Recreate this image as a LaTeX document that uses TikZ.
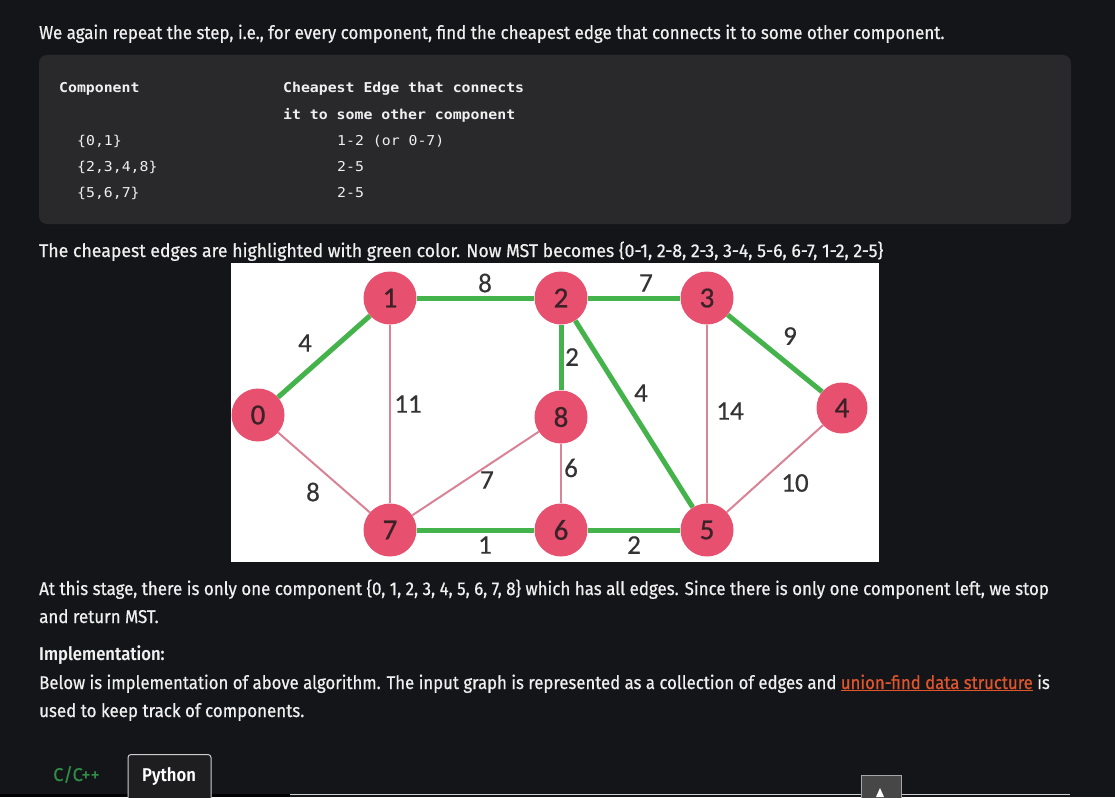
\documentclass[tikz,border=0pt]{standalone}
\usepackage{fontspec}
\usetikzlibrary{backgrounds}
\newfontfamily\bodyfont[FakeStretch=0.915,FakeBold=0.6]{Fira Sans}
\newfontfamily\bodyboldfont[FakeStretch=0.9]{Fira Sans SemiBold}
\newfontfamily\codefont[FakeStretch=1.09]{DejaVu Sans Mono}
\newfontfamily\graphfont[FakeBold=0.8]{Carlito}
\newfontfamily\weightfont[FakeBold=0.4]{Carlito}
\definecolor{bg}{HTML}{141519}
\definecolor{codebg}{HTML}{29292C}
\definecolor{txt}{HTML}{F0F0F0}
\definecolor{gr}{HTML}{45B34B}
\definecolor{pk}{HTML}{D98397}
\definecolor{nd}{HTML}{E8506F}
\definecolor{ndtxt}{HTML}{3A2228}
\definecolor{wtxt}{HTML}{333333}
\definecolor{linkc}{HTML}{E0552E}
\definecolor{tabgreen}{HTML}{2F8D46}
\definecolor{tabbg}{HTML}{1E1E20}
\definecolor{tabborder}{HTML}{CFCFCF}
\tikzset{
  body/.style={anchor=base west, inner sep=0pt, text=txt, font=\bodyfont\fontsize{18.5}{21}\selectfont},
  code/.style={anchor=base west, inner sep=0pt, text=txt, font=\codefont\fontsize{13.6}{16}\selectfont},
  codebold/.style={code, font=\codefont\bfseries\fontsize{13.6}{16}\selectfont},
  vertex/.style={circle, fill=nd, minimum size=53pt, inner sep=0pt, text=ndtxt, font=\graphfont\fontsize{29}{30}\selectfont},
  mst/.style={draw=gr, line width=5pt},
  other/.style={draw=pk, line width=2pt},
  wt/.style={inner sep=0pt, text=wtxt, font=\weightfont\fontsize{27}{30}\selectfont},
}
\begin{document}
\begin{tikzpicture}[x=1pt,y=-1pt]
\useasboundingbox (0,0) rectangle (1115,797);
\begin{scope}[on background layer]
\fill[bg] (0,0) rectangle (1115,797);
\fill[codebg, rounded corners=8pt] (39,55) rectangle (1071,224);
\fill[white] (231,263) rectangle (879,562);
\end{scope}

% paragraph 1
\node[body] (p1) at (39,39) {We again repeat the step, i.e., for every component, find the cheapest edge that connects it to some other component.};

% code box
\node[codebold] (c1) at (59,93) {Component};
\node[codebold] (c2) at (283,93) {Cheapest Edge that connects};
\node[codebold] (c3) at (283,119) {it to some other component};
\node[code] (c4) at (77,145) {\{0,1\}};
\node[code] (c5) at (337,145) {1-2 (or 0-7)};
\node[code] (c6) at (77,171) {\{2,3,4,8\}};
\node[code] (c7) at (337,171) {2-5};
\node[code] (c8) at (77,197) {\{5,6,7\}};
\node[code] (c9) at (337,197) {2-5};

% paragraph 2
\node[body] (p2) at (39,257) {\scalebox{1.044}[1]{The cheapest edges are highlighted with green color. Now MST becomes \{0-1, 2-8, 2-3, 3-4, 5-6, 6-7, 1-2, 2-5\}}};

% graph
\node[vertex, minimum width=49pt] (n0) at (258,415) {0};
\node[vertex] (n1) at (390,298) {1};
\node[vertex] (n2) at (561,298) {2};
\node[vertex] (n3) at (707,298) {3};
\node[vertex, minimum size=51pt] (n4) at (842,408) {4};
\node[vertex] (n8) at (561,417) {8};
\node[vertex] (n7) at (390,530) {7};
\node[vertex] (n6) at (561,530) {6};
\node[vertex] (n5) at (707,530) {5};
\begin{scope}[on background layer]
\path[other] (n1) -- (n7);
\path[other] (n0) -- (n7);
\path[other] (n7) -- (n8);
\path[other] (n8) -- (n6);
\path[other] (n3) -- (n5);
\path[other] (n4) -- (n5);
\path[mst] (n0) -- (n1);
\path[mst] (n1) -- (n2);
\path[mst] (n2) -- (n3);
\path[mst] (n3) -- (n4);
\path[mst] (n2) -- (n8);
\path[mst] (n2) -- (n5);
\path[mst] (n7) -- (n6);
\path[mst] (n6) -- (n5);
\end{scope}
\node[wt] (w12) at (485,283) {8};
\node[wt] (w23) at (646,283) {7};
\node[wt] (w01) at (305,343) {4};
\node[wt] (w17) at (408,404) {11};
\node[wt] (w28) at (572,357) {2};
\node[wt] (w25) at (641,393) {4};
\node[wt] (w35) at (730,411) {14};
\node[wt] (w34) at (790,336) {9};
\node[wt] (w07) at (313,492) {8};
\node[wt] (w78) at (487,480) {7};
\node[wt] (w86) at (571,468) {6};
\node[wt] (w45) at (795,483) {10};
\node[wt] (w76) at (485,545) {1};
\node[wt] (w65) at (634,545) {2};

% paragraph 3
\node[body] (p3) at (39,595) {At this stage, there is only one component \{0, 1, 2, 3, 4, 5, 6, 7, 8\} which has all edges. Since there is only one component left, we stop};
\node[body] (p4) at (39,623) {and return MST.};
\node[body, font=\bodyboldfont\fontsize{18.5}{21}\selectfont] (p5) at (39,660) {Implementation:};
\node[body] (p6) at (39,689) {\scalebox{0.99}[1]{Below is implementation of above algorithm. The input graph is represented as a collection of edges and \textcolor{linkc}{\underline{union-find data structure}} is}};
\node[body] (p7) at (39,717) {used to keep track of components.};

% tabs
\node[body, text=tabgreen] (t1) at (53,781) {\scalebox{1.08}[1]{C/C++}};
\fill[black] (0,794) rectangle (290,797);
\draw[tabborder, line width=1pt] (290,794.5) -- (1070,794.5);
\draw[tabborder, fill=tabbg, line width=1pt, rounded corners=3pt] (128,800) -- (128,754.5) -- (211,754.5) -- (211,800);
\node[body, text=white, font=\bodyboldfont\fontsize{18.5}{21}\selectfont] (t2) at (142,781) {Python};
\draw[gray!70, fill=black!72, line width=1pt] (861,797.5) -- (861,775.5) -- (901,775.5) -- (901,797.5);
\fill[white] (880,788) -- (884,797) -- (876,797) -- cycle;
\end{tikzpicture}
\end{document}
